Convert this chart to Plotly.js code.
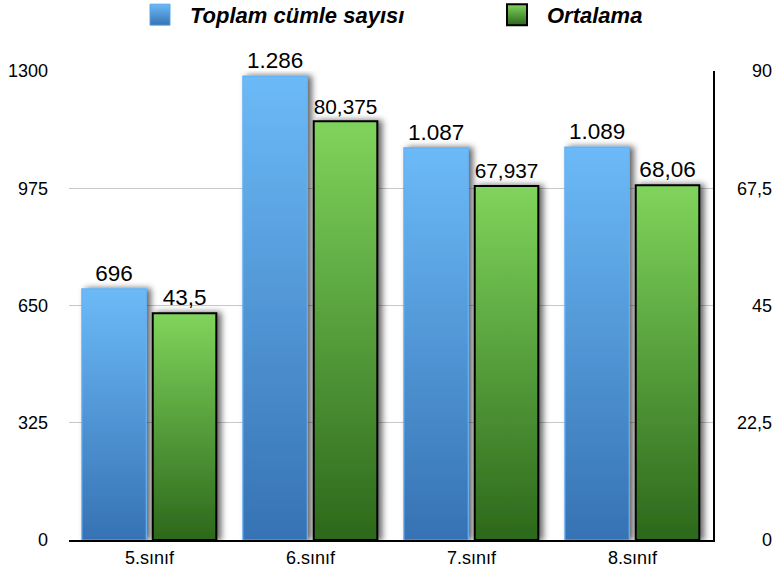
<!DOCTYPE html>
<html>
<head>
<meta charset="utf-8">
<script src="https://cdn.plot.ly/plotly-3.0.1.min.js"></script>
<style>html,body{margin:0;padding:0;background:#fff;}#chart{width:774px;height:572px;}</style>
</head>
<body>
<div id="chart"></div>
<script>
const categories = ['5.sınıf', '6.sınıf', '7.sınıf', '8.sınıf'];
const toplam = [696, 1286, 1087, 1089];
const ortalama = [43.5, 80.375, 67.937, 68.06];
const leftTicks = [0, 325, 650, 975, 1300];
const rightTicks = [0, 22.5, 45, 67.5, 90];

const FONT = 'Liberation Sans, Arial, Helvetica, sans-serif';
const legFont = {family: FONT, size: 22, weight: 'bold', style: 'italic', color: '#000'};

const traces = [
  {
    type: 'bar', name: 'Toplam cümle sayısı', x: categories, y: toplam, yaxis: 'y',
    width: 0.4, offset: -0.42, legend: 'legend',
    marker: {color: '#4f96dc', line: {color: '#62b0f6', width: 1.2}},
    texttemplate: '%{y:,}', textposition: 'outside', cliponaxis: false,
    textfont: {family: FONT, size: 22.5, color: '#000'}, hoverinfo: 'skip'
  },
  {
    type: 'bar', name: 'Ortalama', x: categories, y: ortalama, yaxis: 'y2',
    width: 0.395, offset: 0.02, legend: 'legend2',
    marker: {color: '#55a83a', line: {color: '#000', width: 2}},
    texttemplate: '%{y:,}', textposition: 'outside', cliponaxis: false,
    textfont: {family: FONT, size: 22.5, color: '#000'}, hoverinfo: 'skip'
  }
];

const layout = {
  width: 774, height: 572,
  margin: {l: 69, r: 61, t: 71, b: 32},
  paper_bgcolor: '#fff', plot_bgcolor: '#fff',
  separators: ',.',
  showlegend: true,
  barmode: 'group',
  font: {family: FONT, color: '#000'},
  legend: {
    orientation: 'h', x: 150 / 774, xanchor: 'left', xref: 'container',
    y: 0.974, yanchor: 'middle', yref: 'container', font: legFont, itemwidth: 30,
    bgcolor: 'rgba(0,0,0,0)'
  },
  legend2: {
    orientation: 'h', x: 507 / 774, xanchor: 'left', xref: 'container',
    y: 0.974, yanchor: 'middle', yref: 'container', font: legFont, itemwidth: 30,
    bgcolor: 'rgba(0,0,0,0)'
  },
  xaxis: {
    type: 'category', showline: true, linecolor: '#000', linewidth: 2,
    showgrid: false, zeroline: false, ticks: '',
    tickfont: {family: FONT, size: 18, color: '#000'}, fixedrange: true
  },
  yaxis: {
    range: [0, 1300], tickvals: leftTicks, ticktext: leftTicks.map(String),
    showgrid: true, gridcolor: '#c8c8c8', gridwidth: 1, zeroline: false,
    showline: false, ticks: '', ticklabelstandoff: 20,
    tickfont: {family: FONT, size: 18, color: '#000'}, fixedrange: true
  },
  yaxis2: {
    overlaying: 'y', side: 'right', range: [0, 90], tickvals: rightTicks,
    showgrid: false, zeroline: false, showline: true, linecolor: '#000', linewidth: 2,
    ticks: '', ticklabelstandoff: 20,
    tickfont: {family: FONT, size: 18, color: '#000'}, fixedrange: true
  }
};

Plotly.newPlot('chart', traces, layout, {displayModeBar: false, staticPlot: true}).then(function () {
  const gd = document.getElementById('chart');
  const svg = gd.querySelector('.main-svg');
  const NS = 'http://www.w3.org/2000/svg';
  const defs = document.createElementNS(NS, 'defs');
  defs.innerHTML =
    '<linearGradient id="gBlue" x1="0" y1="0" x2="0" y2="1">' +
      '<stop offset="0" stop-color="#6cbaf7"/><stop offset="1" stop-color="#3672b4"/></linearGradient>' +
    '<linearGradient id="gGreen" x1="0" y1="0" x2="0" y2="1">' +
      '<stop offset="0" stop-color="#80d45c"/><stop offset="1" stop-color="#2c681b"/></linearGradient>' +
    '<filter id="shadow" x="-30%" y="-10%" width="170%" height="125%">' +
      '<feDropShadow dx="4" dy="0" stdDeviation="3" flood-color="#000" flood-opacity="0.6"/></filter>';
  svg.insertBefore(defs, svg.firstChild);

  const barTraces = gd.querySelectorAll('.barlayer .trace');
  const grads = ['url(#gBlue)', 'url(#gGreen)'];
  barTraces.forEach(function (tr, i) {
    tr.querySelectorAll('.point path').forEach(function (p) {
      p.style.fill = grads[i];
      p.setAttribute('filter', 'url(#shadow)');
    });
  });

  // legend symbols (both legends)
  gd.querySelectorAll('.infolayer g.traces').forEach(function (t) {
    const isGreen = t.textContent.indexOf('Ortalama') >= 0;
    t.querySelectorAll('.legendpoints path').forEach(function (p) {
      p.setAttribute('d', 'M10,10.5H-10V-10.5H10Z');
      p.setAttribute('transform', 'translate(10,0)');
      p.style.fill = isGreen ? grads[1] : grads[0];
      p.style.strokeWidth = isGreen ? '2px' : '1px';
      p.style.stroke = isGreen ? '#000' : '#5aa5ea';
    });
  });
  gd.querySelectorAll('.infolayer [clip-path]').forEach(function (el) {
    if (el.closest('.legend, .legend2')) el.removeAttribute('clip-path');
  });

  // right-align right-axis tick labels at the window edge
  const svgRect = svg.getBoundingClientRect();
  gd.querySelectorAll('.y2tick text').forEach(function (t) {
    const r = t.getBoundingClientRect();
    const x = parseFloat(t.getAttribute('x')) || 0;
    t.setAttribute('x', x + (772 - (r.right - svgRect.left)));
  });
});
</script>
</body>
</html>
